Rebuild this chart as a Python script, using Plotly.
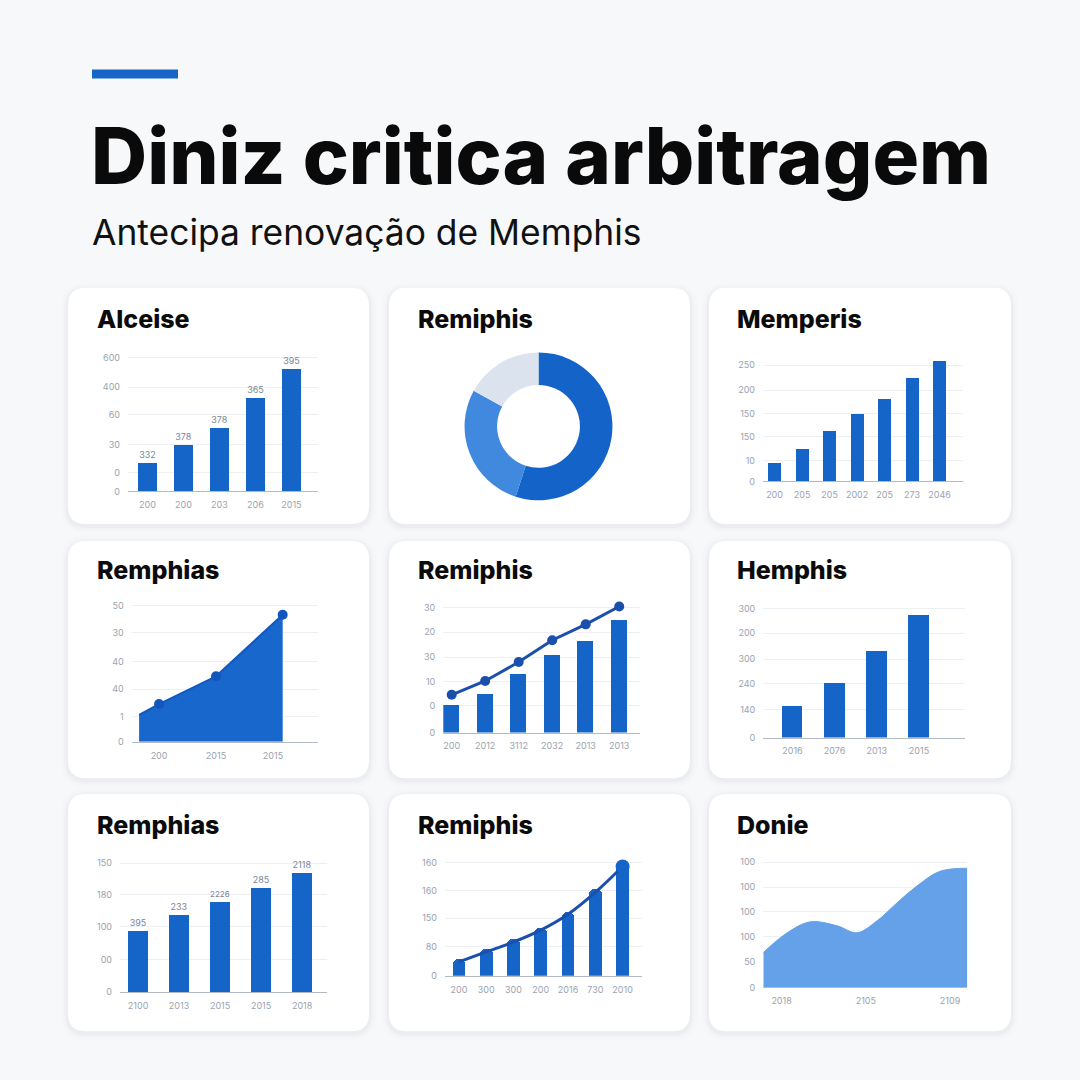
import plotly.graph_objects as go

W = H = 1080
BLUE = "#1565c8"
NAVY = "#1a4fae"
AREA_LIGHT = "#64a1e8"
GRID = "#eceff3"
TICK = "#9aa3af"
FONT = "Inter"

# ---- data ----
# Alceise (bars with value labels)
alceise_years = ["200", "200", "203", "206", "2015"]
alceise_values = [28, 46, 63, 94, 123]
alceise_labels = ["332", "378", "378", "365", "395"]
alceise_yticks = [0, 19, 47, 77, 105, 135]
alceise_ytext = ["0", "0", "30", "60", "400", "600"]

# Remiphis (donut)
remiphis_share = [55, 28, 17]

# Memperis (bars)
memperis_years = ["200", "205", "205", "2002", "205", "273", "2046"]
memperis_values = [18, 32, 50, 68, 83, 104, 121]
memperis_yticks = [0, 21, 45, 68, 92, 117]
memperis_ytext = ["0", "10", "150", "150", "200", "250"]

# Remphias (area)
remphias_x = [-0.35, 0, 1, 2.17]
remphias_y = [27, 38, 66, 128]
remphias_xticks = [0, 1, 2]
remphias_xtext = ["200", "2015", "2015"]
remphias_yticks = [0, 25, 53, 81, 110, 137]
remphias_ytext = ["0", "1", "40", "40", "30", "50"]

# Remiphis (bars + line)
combo_years = ["200", "2012", "3112", "2032", "2013", "2013"]
combo_bars = [28, 39, 59, 79, 93, 114]
combo_line = [38, 52, 71, 93, 109, 127]
combo_yticks = [0, 27, 51, 76, 101, 126]
combo_ytext = ["0", "0", "10", "30", "20", "30"]

# Hemphis (bars)
hemphis_years = ["2016", "2076", "2013", "2015"]
hemphis_values = [32, 55, 88, 124]
hemphis_yticks = [0, 28, 54, 79, 105, 130]
hemphis_ytext = ["0", "140", "240", "300", "200", "300"]

# Remphias (bars with value labels)
remph2_years = ["2100", "2013", "2015", "2015", "2018"]
remph2_values = [62, 78, 91, 105, 120]
remph2_labels = ["395", "233", "2226", "285", "2118"]
remph2_yticks = [0, 33, 66, 98, 130]
remph2_ytext = ["0", "00", "100", "180", "150"]

# Remiphis (rounded bars + smooth line)
round_years = ["200", "300", "300", "200", "2016", "730", "2010"]
round_bars = [17, 27, 37, 48, 65, 88, 114]
round_line = [14, 24, 34, 46, 62, 84, 110]
round_yticks = [0, 29, 58, 86, 114]
round_ytext = ["0", "80", "150", "160", "160"]

# Donie (smooth area)
donie_x = [-0.217, 0.067, 0.343, 0.659, 0.896, 1.133, 1.369, 1.606, 1.882, 2.205]
donie_y = [35, 55, 66, 62, 55, 67, 85, 102, 117, 120]
donie_xticks = [0, 1, 2]
donie_xtext = ["2018", "2105", "2109"]
donie_yticks = [0, 26, 51, 76, 101, 126]
donie_ytext = ["0", "50", "100", "100", "100", "100"]


def px_x(v):
    return v / W


def px_y(v):
    return 1 - v / H


fig = go.Figure()
axes = {}


def add_axes(n, x0, x1, base, top, xrange, xticks, xtext, yticks, ytext):
    sfx = "" if n == 1 else str(n)
    axes["xaxis" + sfx] = dict(
        domain=[px_x(x0), px_x(x1)], range=xrange, anchor="y" + sfx,
        tickvals=xticks, ticktext=xtext, showgrid=False, zeroline=False,
        showline=True, linecolor="#b3bac4", linewidth=1.2,
        tickfont=dict(family=FONT, size=9, color=TICK), ticks="",
        ticklabelstandoff=5, fixedrange=True,
    )
    axes["yaxis" + sfx] = dict(
        domain=[px_y(base), px_y(top)], range=[0, base - top], anchor="x" + sfx,
        tickvals=yticks, ticktext=ytext, showgrid=True, gridcolor=GRID,
        gridwidth=1, zeroline=False, showline=False,
        tickfont=dict(family=FONT, size=9, color=TICK), ticks="",
        ticklabelstandoff=7, fixedrange=True,
    )
    return "x" + sfx, "y" + sfx


bar_text_font = dict(family=FONT, size=9, color="#7d8696")

# Alceise
xa, ya = add_axes(1, 128, 318, 492, 352, [-0.54, 4.74],
                  list(range(len(alceise_years))), alceise_years,
                  alceise_yticks, alceise_ytext)
fig.add_trace(go.Bar(x=list(range(len(alceise_values))), y=alceise_values,
                     width=0.53, marker=dict(color=BLUE, line=dict(width=0)),
                     text=alceise_labels, textposition="outside",
                     textfont=bar_text_font, cliponaxis=False,
                     xaxis=xa, yaxis=ya, showlegend=False))

# Remiphis donut
fig.add_trace(go.Pie(values=remiphis_share, hole=0.56, sort=False,
                     direction="clockwise", rotation=0,
                     marker=dict(colors=["#1463c9", "#4189de", "#dbe4ee"],
                                 line=dict(width=0)),
                     textinfo="none", hoverinfo="skip", showlegend=False,
                     domain=dict(x=[px_x(464), px_x(613)],
                                 y=[px_y(501), px_y(352)])))

# Memperis
xa, ya = add_axes(2, 763, 963, 482, 358, [-0.42, 6.85],
                  list(range(len(memperis_years))), memperis_years,
                  memperis_yticks, memperis_ytext)
fig.add_trace(go.Bar(x=list(range(len(memperis_values))), y=memperis_values,
                     width=0.47, marker=dict(color=BLUE, line=dict(width=0)),
                     xaxis=xa, yaxis=ya, showlegend=False))

# Remphias area
xa, ya = add_axes(3, 131.7, 318, 744.3, 604, [-0.48, 2.79],
                  remphias_xticks, remphias_xtext,
                  remphias_yticks, remphias_ytext)
fig.add_trace(go.Scatter(x=remphias_x, y=remphias_y, mode="lines+markers",
                         fill="tozeroy", fillcolor="#1767cd",
                         line=dict(color="#1158c0", width=2),
                         marker=dict(size=[0, 10, 10, 10], color="#1256bd",
                                     opacity=1, line=dict(width=0)),
                         cliponaxis=False, xaxis=xa, yaxis=ya, showlegend=False))

# Remiphis combo
xa, ya = add_axes(4, 443.3, 640, 735, 604, [-0.25, 5.62],
                  list(range(len(combo_years))), combo_years,
                  combo_yticks, combo_ytext)
fig.add_trace(go.Bar(x=list(range(len(combo_bars))), y=combo_bars,
                     width=0.48, marker=dict(color=BLUE, line=dict(width=0)),
                     xaxis=xa, yaxis=ya, showlegend=False))
fig.add_trace(go.Scatter(x=list(range(len(combo_line))), y=combo_line,
                         mode="lines+markers",
                         line=dict(color=NAVY, width=3),
                         marker=dict(size=10, color=NAVY, line=dict(width=0)),
                         cliponaxis=False, xaxis=xa, yaxis=ya, showlegend=False))

# Hemphis
xa, ya = add_axes(5, 763.3, 965, 740, 606, [-0.69, 4.09],
                  list(range(len(hemphis_years))), hemphis_years,
                  hemphis_yticks, hemphis_ytext)
fig.add_trace(go.Bar(x=list(range(len(hemphis_values))), y=hemphis_values,
                     width=0.49, marker=dict(color=BLUE, line=dict(width=0)),
                     xaxis=xa, yaxis=ya, showlegend=False))

# Remphias bars
xa, ya = add_axes(6, 120, 326.7, 996.5, 862, [-0.44, 4.6],
                  list(range(len(remph2_years))), remph2_years,
                  remph2_yticks, remph2_ytext)
fig.add_trace(go.Bar(x=list(range(len(remph2_values))), y=remph2_values,
                     width=0.5, marker=dict(color=BLUE, line=dict(width=0)),
                     text=remph2_labels, textposition="outside",
                     textfont=bar_text_font, cliponaxis=False,
                     xaxis=xa, yaxis=ya, showlegend=False))

# Remiphis rounded bars + line
xa, ya = add_axes(7, 445, 641.7, 980, 862, [-0.51, 6.7],
                  list(range(len(round_years))), round_years,
                  round_yticks, round_ytext)
fig.add_trace(go.Bar(x=list(range(len(round_bars))), y=round_bars,
                     width=0.47, marker=dict(color=BLUE, line=dict(width=0),
                                             cornerradius="50%"),
                     xaxis=xa, yaxis=ya, showlegend=False))
fig.add_trace(go.Scatter(x=list(range(len(round_line))), y=round_line,
                         mode="lines+markers", line=dict(color=NAVY, width=3,
                                                         shape="spline"),
                         marker=dict(size=[0] * (len(round_line) - 1) + [14],
                                     color=BLUE, opacity=1,
                                     line=dict(width=0)),
                         cliponaxis=False, xaxis=xa, yaxis=ya, showlegend=False))

# Donie
xa, ya = add_axes(8, 763.3, 967.3, 991.7, 862, [-0.217, 2.205],
                  donie_xticks, donie_xtext, donie_yticks, donie_ytext)
fig.add_trace(go.Scatter(x=donie_x, y=donie_y, mode="lines",
                         fill="tozeroy", fillcolor=AREA_LIGHT,
                         line=dict(color=AREA_LIGHT, width=1, shape="spline",
                                   smoothing=1.0),
                         xaxis=xa, yaxis=ya, showlegend=False))


def rounded_rect(x0, y0, x1, y1, r):
    X, Y = px_x, px_y
    return (f"M {X(x0 + r)},{Y(y0)} L {X(x1 - r)},{Y(y0)} "
            f"Q {X(x1)},{Y(y0)} {X(x1)},{Y(y0 + r)} "
            f"L {X(x1)},{Y(y1 - r)} Q {X(x1)},{Y(y1)} {X(x1 - r)},{Y(y1)} "
            f"L {X(x0 + r)},{Y(y1)} Q {X(x0)},{Y(y1)} {X(x0)},{Y(y1 - r)} "
            f"L {X(x0)},{Y(y0 + r)} Q {X(x0)},{Y(y0)} {X(x0 + r)},{Y(y0)} Z")


shapes = []
cols = [(68, 369), (389, 690), (709, 1011)]
rows = [(287, 525), (542, 781), (797, 1036)]
for (ry0, ry1) in rows:
    for (cx0, cx1) in cols:
        for grow, alpha in [(7, 0.012), (4, 0.018), (2, 0.025)]:
            shapes.append(dict(type="path", xref="paper", yref="paper",
                               path=rounded_rect(cx0 - grow, ry0 - grow + 2,
                                                 cx1 + grow, ry1 + grow + 2,
                                                 18 + grow),
                               fillcolor=f"rgba(40,60,100,{alpha})",
                               line=dict(width=0), layer="below"))
        shapes.append(dict(type="path", xref="paper", yref="paper",
                           path=rounded_rect(cx0, ry0, cx1, ry1, 18),
                           fillcolor="#ffffff", line=dict(width=0),
                           layer="below"))

# accent bar above the title
shapes.append(dict(type="rect", xref="paper", yref="paper",
                   x0=px_x(92), x1=px_x(178), y0=px_y(76), y1=px_y(67),
                   fillcolor=BLUE, line=dict(width=0)))

annotations = [
    dict(text="Diniz critica arbitragem", x=px_x(89), y=px_y(154),
         xref="paper", yref="paper",
         xanchor="left", yanchor="middle", showarrow=False,
         font=dict(family=FONT, size=77.7, weight=800, color="#0a0a0a")),
    dict(text="Antecipa renovação de Memphis", x=px_x(90), y=px_y(231),
         xref="paper", yref="paper",
         xanchor="left", yanchor="middle", showarrow=False,
         font=dict(family=FONT, size=35.4, weight=400, color="#111111")),
]

card_titles = [
    ("Alceise", 95, 318), ("Remiphis", 416, 318), ("Memperis", 735, 318),
    ("Remphias", 95, 571), ("Remiphis", 416, 571), ("Hemphis", 735, 571),
    ("Remphias", 95, 828), ("Remiphis", 416, 828), ("Donie", 735, 828),
]
for text, tx, ty in card_titles:
    annotations.append(dict(text=text, x=px_x(tx), y=px_y(ty),
                            xref="paper", yref="paper",
                            xanchor="left", yanchor="middle", showarrow=False,
                            font=dict(family=FONT, size=25, weight=800,
                                      color="#0b0b0b")))

fig.update_layout(
    width=W, height=H, margin=dict(l=0, r=0, t=0, b=0),
    paper_bgcolor="#f7f8fa", plot_bgcolor="rgba(0,0,0,0)",
    shapes=shapes, annotations=annotations, bargap=0,
    font=dict(family=FONT), **axes,
)

fig.write_html("out.html", config={"displayModeBar": False},
               post_script="document.body.style.margin='0';")
